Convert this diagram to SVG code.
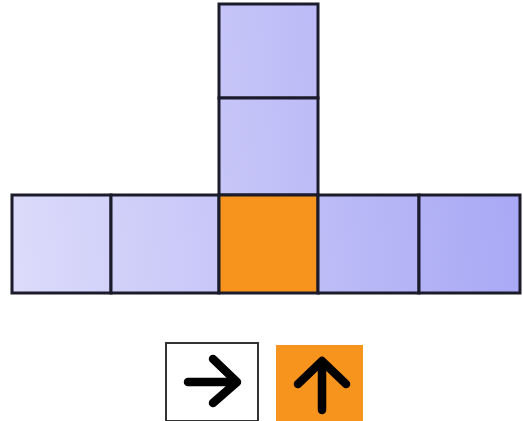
<svg xmlns="http://www.w3.org/2000/svg" width="523" height="421" viewBox="0 0 523 421">
<style>
.cell{stroke:#1b1b2b;stroke-width:3;fill:url(#g)}
.cur{stroke:#1b1b2b;stroke-width:3;fill:#f7941d}
.arr{fill:none;stroke:#000;stroke-width:8.5;stroke-linecap:round;stroke-linejoin:round}
</style>
<defs>
<linearGradient id="g" gradientUnits="userSpaceOnUse" x1="10" y1="260" x2="522" y2="220">
<stop offset="0" stop-color="#dddbfa"/>
<stop offset="1" stop-color="#a8a8f5"/>
</linearGradient>
</defs>
<rect width="523" height="421" fill="#fff"/>
<g id="top1"><rect class="cell" x="219" y="4" width="99" height="94"/></g>
<g id="top2"><rect class="cell" x="219" y="98" width="99" height="97"/></g>
<g id="c1"><rect class="cell" x="12" y="195" width="99" height="98"/></g>
<g id="c2"><rect class="cell" x="111" y="195" width="108" height="98"/></g>
<g id="c3"><rect class="cur" x="219" y="195" width="99" height="98"/></g>
<g id="c4"><rect class="cell" x="318" y="195" width="101" height="98"/></g>
<g id="c5"><rect class="cell" x="419" y="195" width="101" height="98"/></g>
<g id="key-right">
<rect x="166" y="343" width="92" height="78" fill="#fff" stroke="#333" stroke-width="2"/>
<path class="arr" d="M188 382H237M213 359L237 382L213 403"/>
</g>
<g id="key-up">
<rect x="276" y="345" width="87" height="76" fill="#f7941d"/>
<path class="arr" d="M322 410V362M298 384L322 361L346 384"/>
</g>
</svg>
